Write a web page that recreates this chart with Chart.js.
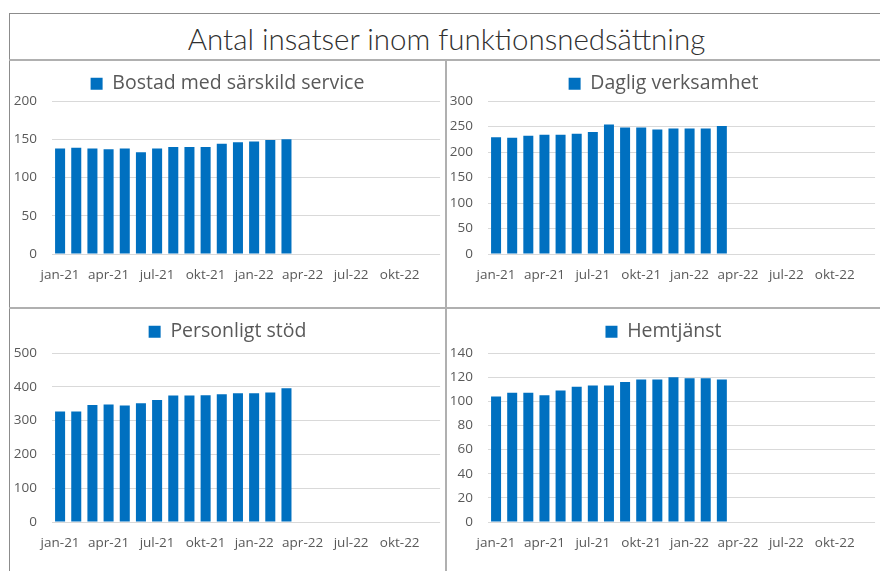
<html>
<head>
<style>
  body { margin:0; background:#fff; width:880px; height:571px; overflow:hidden; position:relative; font-family:"Open Sans", sans-serif; }
  .box { position:absolute; }
  #frame { left:9px; top:13px; width:880px; height:600px; border-left:1px solid #8c8c8c; border-top:1px solid #8c8c8c; }
  #title { left:9px; top:15px; width:875px; height:46px; line-height:48px; text-align:center; font-family:Lato, sans-serif; font-weight:300; font-size:29.5px; color:#303030; }
  #hline1 { left:9px; top:59px; width:871px; height:2px; background:#b0b0b0; }
  #hline2 { left:9px; top:307px; width:871px; height:2px; background:#b0b0b0; }
  #vline { left:445px; top:60px; width:2px; height:520px; background:#b0b0b0; }
</style>
</head>
<body>
<div class="box" id="frame"></div>
<div class="box" id="title">Antal insatser inom funktionsnedsättning</div>
<div class="box" id="hline1"></div>
<div class="box" id="hline2"></div>
<div class="box" id="vline"></div>

<div class="box" style="left:10px;top:61px;width:435px;height:246px;"><canvas id="c1"></canvas></div>
<div class="box" style="left:447px;top:61px;width:433px;height:246px;"><canvas id="c2"></canvas></div>
<div class="box" style="left:10px;top:309px;width:435px;height:262px;"><canvas id="c3"></canvas></div>
<div class="box" style="left:447px;top:309px;width:433px;height:262px;"><canvas id="c4"></canvas></div>

<script src="https://cdn.jsdelivr.net/npm/chart.js"></script>
<script>
  const months = ['jan-21','feb-21','mar-21','apr-21','maj-21','jun-21','jul-21','aug-21','sep-21','okt-21','nov-21','dec-21',
                  'jan-22','feb-22','mar-22','apr-22','maj-22','jun-22','jul-22','aug-22','sep-22','okt-22','nov-22','dec-22'];

  const bostad = [138, 139, 138, 137, 138, 133, 138, 140, 140, 140, 144, 146, 147, 149, 150];
  const daglig = [229, 228, 232, 234, 234, 236, 239, 254, 248, 248, 244, 246, 246, 246, 251];
  const personligt = [327, 327, 346, 348, 345, 351, 361, 374, 374, 375, 378, 381, 381, 383, 396];
  const hemtjanst = [104, 107, 107, 105, 109, 112, 113, 113, 116, 118, 118, 120, 119, 119, 118];

  const blue = '#0070c0';
  const tickFont = { family: '"Open Sans", sans-serif', size: 13.5 };

  function makeChart(id, name, values, yMax, yStep, yWidth, legendH, xH) {
    const legendFix = {
      id: 'legendFix',
      beforeInit(chart) {
        const fit = chart.legend.fit;
        chart.legend.fit = function () {
          fit.bind(chart.legend)();
          this.height = legendH;
        };
      }
    };
    return new Chart(document.getElementById(id), {
      type: 'bar',
      data: {
        labels: months,
        datasets: [{
          label: name,
          data: values,
          backgroundColor: blue,
          barPercentage: 0.62,
          categoryPercentage: 1.0
        }]
      },
      options: {
        responsive: true,
        maintainAspectRatio: false,
        animation: false,
        layout: { padding: { top: 0, right: 0, bottom: 0, left: 0 } },
        plugins: {
          legend: {
            position: 'top',
            labels: {
              boxWidth: 12, boxHeight: 12, padding: 13,
              color: '#595959',
              font: { family: '"Open Sans", sans-serif', size: 19.5 }
            }
          },
          tooltip: { enabled: false }
        },
        scales: {
          x: {
            grid: { display: false, drawTicks: false },
            border: { display: false },
            ticks: {
              autoSkip: false, maxRotation: 0, padding: 13,
              color: '#595959', font: tickFont,
              callback: function (v, i) { return i % 3 === 0 ? months[i] : ''; }
            },
            afterFit: function (s) { s.height = xH; }
          },
          y: {
            min: 0, max: yMax,
            grid: { color: '#d9d9d9', drawTicks: false },
            border: { display: false },
            ticks: { stepSize: yStep, padding: 15, color: '#595959', font: tickFont },
            afterFit: function (s) { s.width = yWidth; }
          }
        }
      },
      plugins: [legendFix]
    });
  }

  makeChart('c1', 'Bostad med särskild service', bostad, 200, 50, 42, 40, 53);
  makeChart('c2', 'Daglig verksamhet', daglig, 300, 50, 41, 40, 53);
  makeChart('c3', 'Personligt stöd', personligt, 500, 100, 42, 44, 49);
  makeChart('c4', 'Hemtjänst', hemtjanst, 140, 20, 41, 44, 49);
</script>
</body>
</html>
